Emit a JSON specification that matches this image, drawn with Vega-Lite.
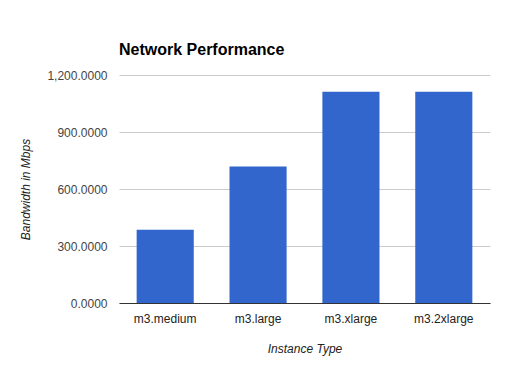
{
  "$schema": "https://vega.github.io/schema/vega-lite/v6.json",
  "width": 371,
  "height": 228,
  "autosize": "none",
  "padding": {"left": 119, "top": 75, "right": 42, "bottom": 82},
  "background": "white",
  "title": {
    "text": "Network Performance",
    "anchor": "start",
    "frame": "group",
    "font": "Liberation Sans",
    "fontSize": 16,
    "fontWeight": "bold",
    "color": "#000000",
    "baseline": "alphabetic",
    "offset": -2
  },
  "data": {
    "values": [
      {"instance": "m3.medium", "bandwidth": 386},
      {"instance": "m3.large", "bandwidth": 719},
      {"instance": "m3.xlarge", "bandwidth": 1112},
      {"instance": "m3.2xlarge", "bandwidth": 1112}
    ]
  },
  "mark": {"type": "bar", "color": "#3366cc"},
  "encoding": {
    "x": {
      "field": "instance",
      "type": "nominal",
      "sort": null,
      "title": "Instance Type",
      "scale": {"paddingInner": 0.385, "paddingOuter": 0.19},
      "axis": {
        "labelAngle": 0,
        "ticks": false,
        "labelPadding": 10,
        "labelFont": "Liberation Sans",
        "labelFontSize": 12,
        "labelColor": "#222222",
        "domainColor": "#333333",
        "domainWidth": 1,
        "titleFont": "Liberation Sans",
        "titleFontSize": 12,
        "titleFontStyle": "italic",
        "titleFontWeight": "normal",
        "titleColor": "#222222",
        "titleY": 40,
        "titleBaseline": "top",
        "grid": false
      }
    },
    "y": {
      "field": "bandwidth",
      "type": "quantitative",
      "title": "Bandwidth in Mbps",
      "scale": {"domain": [0, 1200], "nice": false},
      "axis": {
        "values": [0, 300, 600, 900, 1200],
        "format": ",.4f",
        "ticks": false,
        "domain": false,
        "labelPadding": 12,
        "labelFont": "Liberation Sans",
        "labelFontSize": 12,
        "labelColor": "#444444",
        "gridColor": "#cccccc",
        "gridWidth": 1,
        "titleFont": "Liberation Sans",
        "titleFontSize": 12,
        "titleFontStyle": "italic",
        "titleFontWeight": "normal",
        "titleColor": "#222222",
        "titleX": -87,
        "titleY": 114,
        "titleAngle": -90,
        "titleAlign": "center",
        "titleBaseline": "bottom"
      }
    }
  },
  "config": {"view": {"stroke": null}}
}
